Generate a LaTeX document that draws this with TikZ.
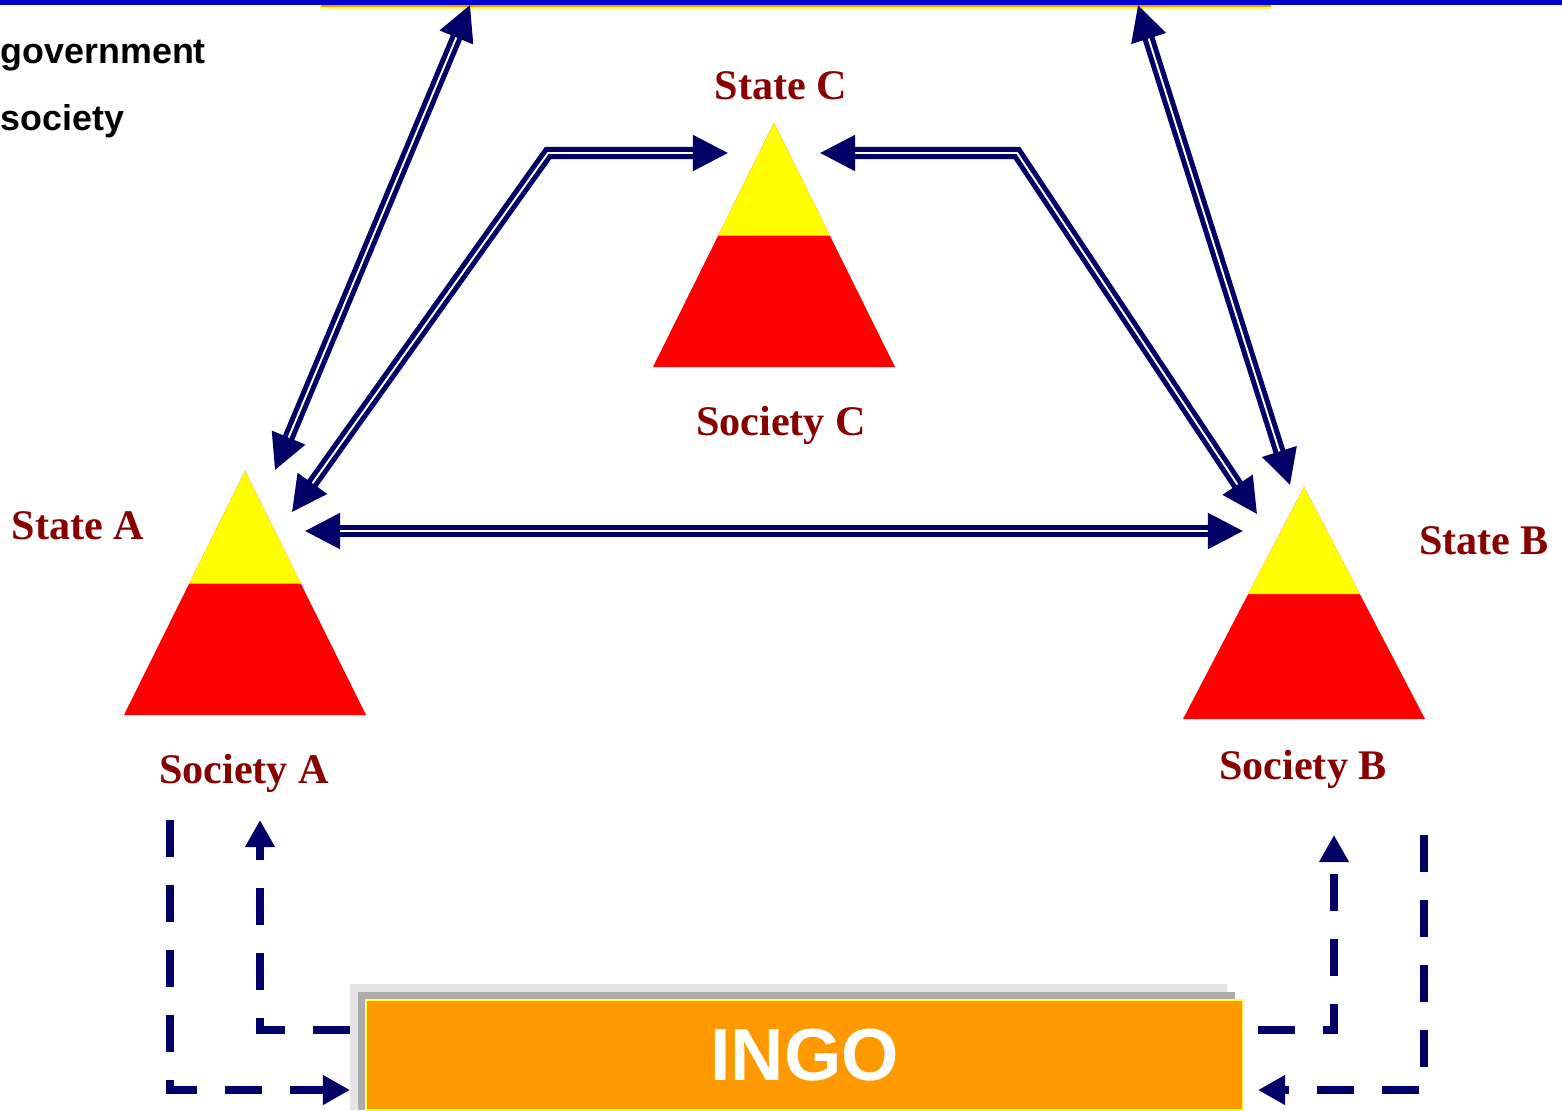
\documentclass[tikz,border=0pt]{standalone}
\usepackage{fontspec}
\setmainfont{Liberation Serif}
\setsansfont{Liberation Sans}
\usetikzlibrary{arrows.meta}
\definecolor{arrowblue}{RGB}{0,0,102}
\definecolor{labelred}{RGB}{136,0,0}
\definecolor{topblue}{RGB}{0,0,204}
\definecolor{ingoorange}{RGB}{255,153,0}
\definecolor{tipyellow}{RGB}{255,255,0}
\definecolor{basered}{RGB}{255,0,0}

\begin{document}
\begin{tikzpicture}[>={Triangle[length=10pt,width=10pt]},
    link/.style={draw=arrowblue,double=white,line width=1.45pt,double distance=0.55pt,<->},
    flow/.style={draw=arrowblue,line width=2.4pt,dash pattern=on 10.5pt off 8pt,-{Triangle[length=7.7pt,width=8pt]}},
    statelabel/.style={color=labelred,font=\bfseries\fontsize{12}{14}\selectfont},
    keylabel/.style={anchor=west,inner sep=0pt,font=\sffamily\bfseries\fontsize{10.2}{12}\selectfont}]
    \useasboundingbox (0,0) rectangle (15.62,11.10);
    % box at the top, cut by the page
    \fill[tipyellow!60] (3.20,11.01) rectangle (12.72,11.10);
    \fill[ingoorange] (3.21,11.03) rectangle (12.71,11.10);
    \fill[topblue] (0,11.05) rectangle (15.62,11.10);
    \node[keylabel] (gov) at (0,10.54) {government};
    \node[keylabel] (soc) at (0,9.89) {society};
    % pyramids
    \foreach \n/\x/\y/\h in {A/2.45/6.39/2.44,B/13.04/6.23/2.32,C/7.74/9.87/2.44}
    {
        \fill[basered] ({\x-1.21},{\y-\h}) -- ({\x+1.21},{\y-\h}) -- (\x,\y) -- cycle;
        \fill[tipyellow] (\x,\y) -- ({\x-0.56},{\y-0.462*\h}) -- ({\x+0.56},{\y-0.462*\h}) -- cycle;
    }
    \node[statelabel] (stateC) at (7.81,10.24) {State C};
    \node[statelabel] (socC) at (7.81,6.85) {Society C};
    \node[statelabel] (stateA) at (0.78,5.84) {State A};
    \node[statelabel] (socA) at (2.44,3.37) {Society A};
    \node[statelabel] (stateB) at (14.84,5.69) {State B};
    \node[statelabel] (socB) at (13.03,3.41) {Society B};
    % INGO
    \fill[gray!20] (3.50,0) rectangle (12.27,1.26);
    \fill[gray!65] (3.58,0) rectangle (12.35,1.18);
    \node[fill=ingoorange,draw=tipyellow!70,line width=0.6pt,minimum width=8.77cm,minimum height=1.10cm,inner sep=0pt,
        text=white,font=\sffamily\bfseries\fontsize{21}{24}\selectfont] (ingo) at (8.045,0.55) {INGO};
    % ends of the links
    \coordinate (topL) at (4.70,11.05);
    \coordinate (topR) at (11.38,11.05);
    \coordinate (aTop) at (2.75,6.40);
    \coordinate (aC) at (2.92,5.98);
    \coordinate (aB) at (3.05,5.79);
    \coordinate (bTop) at (12.90,6.25);
    \coordinate (bC) at (12.57,5.96);
    \coordinate (bA) at (12.43,5.79);
    \coordinate (cA) at (7.28,9.57);
    \coordinate (cB) at (8.20,9.57);
    \draw[link] (aTop) -- (topL);
    \draw[link] (topR) -- (bTop);
    \draw[link] (aC) -- (5.48,9.57) -- (cA);
    \draw[link] (cB) -- (10.17,9.57) -- (bC);
    \draw[link] (aB) -- (bA);
    % dashed links with the INGO
    \coordinate (aOut) at (1.70,2.90);
    \coordinate (aIn) at (2.60,2.90);
    \coordinate (bIn) at (13.34,2.75);
    \coordinate (bOut) at (14.24,2.75);
    \coordinate (ingoLlow) at (3.50,0.20);
    \coordinate (ingoLhigh) at (3.50,0.80);
    \coordinate (ingoRlow) at (12.58,0.20);
    \coordinate (ingoRhigh) at (12.58,0.80);
    \draw[flow] (aOut) |- (ingoLlow);
    \draw[flow] (ingoLhigh) -| (aIn);
    \draw[flow] (ingoRhigh) -| (bIn);
    \draw[flow] (bOut) |- (ingoRlow);
\end{tikzpicture}
\end{document}
